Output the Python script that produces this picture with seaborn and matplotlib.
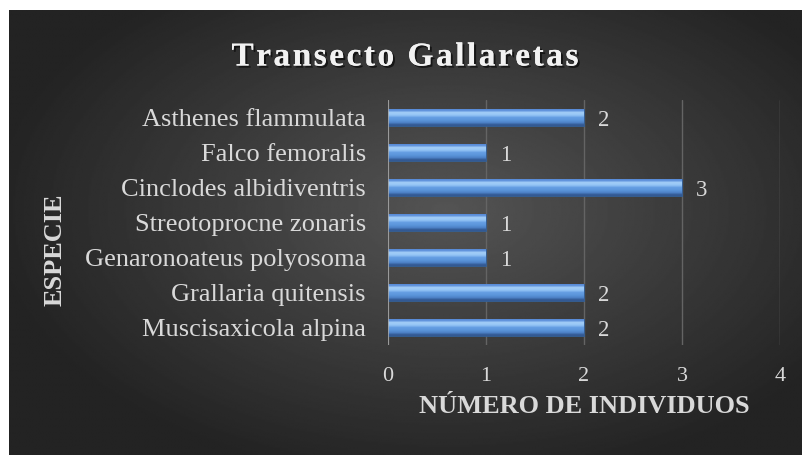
import numpy as np
import pandas as pd
import matplotlib
matplotlib.use("Agg")
import matplotlib.pyplot as plt
import matplotlib.patheffects as pe
from matplotlib.font_manager import FontProperties
import seaborn as sns

# data
especies = ["Asthenes flammulata", "Falco femoralis", "Cinclodes albidiventris",
            "Streotoprocne zonaris", "Genaronoateus polyosoma",
            "Grallaria quitensis", "Muscisaxicola alpina"]
individuos = [2, 1, 3, 1, 1, 2, 2]
x_ticks = [0, 1, 2, 3, 4]
titulo = "Transecto Gallaretas"

df = pd.DataFrame({"Especie": especies, "Individuos": individuos})

sns.set_style("dark")
plt.rcParams["font.family"] = ["Liberation Serif", "DejaVu Serif"]

W, H = 803, 455
fig = plt.figure(figsize=(W / 100, H / 100), dpi=100, facecolor="white")

# dark radial background (chart area), white strip top & left
bg = fig.add_axes([9 / W, 0, 1 - 9 / W, 1 - 10 / H], zorder=-5)
yy, xx = np.mgrid[0:1:300j, 0:1:500j]
r = np.sqrt(((xx - 0.55) / 0.75) ** 2 + ((yy - 0.45) / 0.8) ** 2)
shade = np.clip(0.33 - 0.25 * r, 0.14, 0.34)
bg.imshow(shade, cmap="gray", vmin=0, vmax=1, aspect="auto",
          extent=(0, 1, 0, 1), interpolation="bilinear")
bg.set_axis_off()

# plot area
ax = fig.add_axes([388 / W, 1 - 345 / H, (780 - 388) / W, (345 - 100) / H])
ax.set_facecolor("none")
sns.barplot(data=df, x="Individuos", y="Especie", orient="h", ax=ax,
            color="#5b95d8", width=0.46, edgecolor="#2f5a8f", linewidth=0.6,
            zorder=3)

# bevel-like gradient on each bar
grad = np.array([[0.35, 0.55, 0.85], [0.64, 0.81, 0.97], [0.58, 0.77, 0.96],
                 [0.40, 0.62, 0.89], [0.36, 0.59, 0.86], [0.31, 0.52, 0.79],
                 [0.20, 0.35, 0.58]])
img = grad.reshape(-1, 1, 3)
ylim = ax.get_ylim()
for p in ax.patches:
    x0, y0, w, h = p.get_x(), p.get_y(), p.get_width(), p.get_height()
    im = ax.imshow(img, extent=(x0, x0 + w, y0 + h, y0), origin="upper",
                   aspect="auto", interpolation="bilinear", zorder=4)
    im.set_clip_path(p)
ax.set_xlim(x_ticks[0], x_ticks[-1])
ax.set_ylim(ylim)

labels = ax.bar_label(ax.containers[0], padding=10, fontsize=16.5,
                      color="#d9d9d9")
for lbl in labels:
    lbl.xyann = (10, -2.5)

ax.set_xticks(x_ticks)
ax.grid(axis="x", color="#646464", linewidth=1, zorder=0)
ax.grid(axis="y", visible=False)
ax.axvline(0, color="#a6a6a6", linewidth=1.2, zorder=5)
for s in ax.spines.values():
    s.set_visible(False)
ax.tick_params(axis="x", length=0, pad=16, labelsize=16, labelcolor="#d9d9d9")
ax.tick_params(axis="y", length=0, pad=16, labelsize=19, labelcolor="#d9d9d9")

ax.set_xlabel("NÚMERO DE INDIVIDUOS", fontsize=19, fontweight="bold",
              color="#d9d9d9")
ax.xaxis.set_label_coords(0.5, -0.205)
ax.set_ylabel("ESPECIE", fontsize=19, fontweight="bold", color="#d9d9d9")
ax.yaxis.set_label_coords(-(388 - 67) / (780 - 388), 0.5 - 27 / 245)

# title with expanded letter spacing
fp = FontProperties(family=["Liberation Serif"], weight="bold", size=24)
renderer = fig.canvas.get_renderer()
spacing = 2.5
widths = []
for ch in titulo:
    w, _, _ = renderer.get_text_width_height_descent(ch, fp, ismath=False)
    widths.append(w)
total = sum(widths) + spacing * (len(titulo) - 1)
xpos = 405 - total / 2
for ch, w in zip(titulo, widths):
    fig.text(xpos / W, 1 - 65.5 / H, ch, fontproperties=fp, color="#f2f2f2",
             va="baseline", ha="left",
             path_effects=[pe.withSimplePatchShadow(offset=(1.5, -1.5),
                                                    shadow_rgbFace="black",
                                                    alpha=0.6), pe.Normal()])
    xpos += w + spacing

fig.savefig("out.png", dpi=100, facecolor="white")
